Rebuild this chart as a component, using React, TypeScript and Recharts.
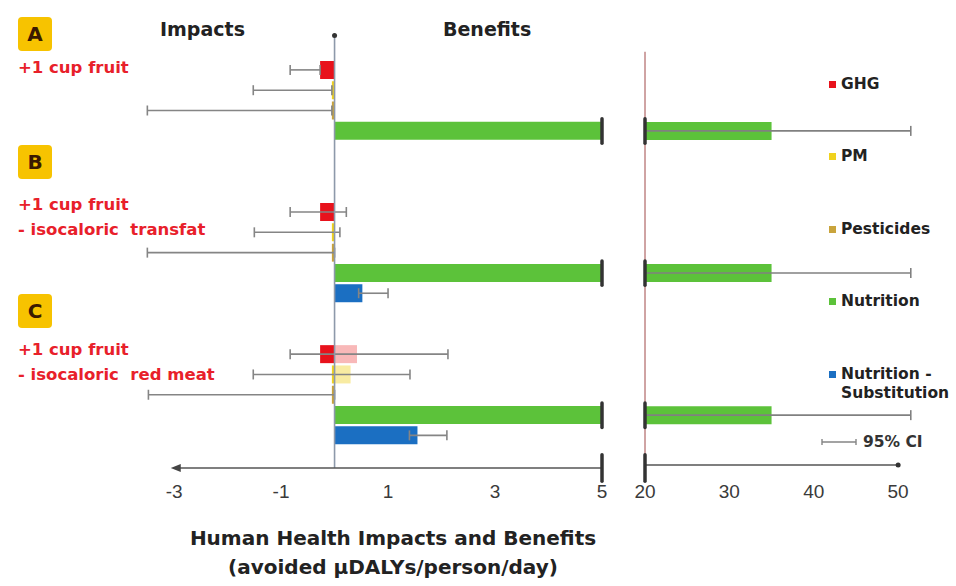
import React from 'react';
import { BarChart, Bar, Cell, XAxis, YAxis, ErrorBar, ReferenceLine, ReferenceDot } from 'recharts';

// one entry per drawn row (group A has no substitution row)
const rowGroup = ['A', 'A', 'A', 'A', 'B', 'B', 'B', 'B', 'B', 'C', 'C', 'C', 'C', 'C'];
const rowSeries = [
  'GHG', 'PM', 'Pesticides', 'Nutrition',
  'GHG', 'PM', 'Pesticides', 'Nutrition', 'Nutrition - Substitution',
  'GHG', 'PM', 'Pesticides', 'Nutrition', 'Nutrition - Substitution',
];
const rowPos = [0, 1, 2, 3, 7, 8, 9, 10, 11, 14, 15, 16, 17, 18];
const rowValue = [-0.27, -0.05, -0.05, 35, -0.27, -0.05, -0.05, 35, 0.52, -0.27, -0.05, -0.05, 35, 1.55];
const rowExtra = [0, 0, 0, 0, 0, 0, 0, 0, 0, 0.42, 0.3, 0, 0, 0];
const rowLow = [-0.83, -1.52, -3.5, 20, -0.83, -1.5, -3.5, 20, 0.45, -0.83, -1.52, -3.48, 20, 1.4];
const rowHigh = [-0.27, -0.05, -0.05, 51.5, 0.22, 0.1, 0, 51.5, 1.0, 2.12, 1.41, 0, 51.5, 2.1];

const seriesNames = ['GHG', 'PM', 'Pesticides', 'Nutrition', 'Nutrition - Substitution'];
const seriesColors = ['#e8121c', '#f0d21e', '#c9a43c', '#5cc23a', '#1b6fc2'];
const extraColors = ['#f59a9a', '#f5e27a', '#c9a43c', '#5cc23a', '#1b6fc2'];

const groupLetters = ['A', 'B', 'C'];
const groupLabels = [
  ['+1 cup fruit'],
  ['+1 cup fruit', '- isocaloric  transfat'],
  ['+1 cup fruit', '- isocaloric  red meat'],
];

const leftTicks = [-3, -1, 1, 3, 5];
const rightTicks = [20, 30, 40, 50];
const leftMax = 5;
const rightMin = 20;

const FONT = 'Arial, "Liberation Sans", sans-serif';
const WIDE = '"DejaVu Sans", Verdana, sans-serif';

const colorOf = (s: string) => seriesColors[seriesNames.indexOf(s)];
const extraOf = (s: string) => extraColors[seriesNames.indexOf(s)];

const leftData = rowSeries.map((s, i) => {
  const v = rowValue[i];
  const over = v > leftMax;
  return {
    pos: rowPos[i],
    series: s,
    group: rowGroup[i],
    value: over ? leftMax : v,
    extra: rowExtra[i],
    err: over ? undefined : [v - rowLow[i], rowHigh[i] - v],
  };
});

const rightData = rowSeries
  .map((s, i) => ({
    pos: rowPos[i],
    series: s,
    value: rowValue[i],
    err: [rowValue[i] - Math.max(rowLow[i], rightMin), rowHigh[i] - rowValue[i]],
  }))
  .filter((d) => d.value > rightMin);

const breakRows = rightData.map((d) => d.pos);

const Y_DOMAIN: [number, number] = [-1.8, 19.6];
const tickStyle = { fontSize: 19, fill: '#3a3a3a', fontFamily: FONT };

const Arrow = (props: any) => {
  const { cx, cy } = props;
  return <path d={`M${cx - 6},${cy} L${cx + 4},${cy - 4} L${cx + 4},${cy + 4} Z`} fill="#444" />;
};

function LeftChart() {
  return (
    <BarChart
      width={620}
      height={586}
      layout="vertical"
      data={leftData}
      stackOffset="sign"
      margin={{ top: 33.5, right: 18, bottom: 88, left: 142 }}
    >
      <XAxis
        type="number"
        dataKey="value"
        domain={[-3.6, 5]}
        allowDataOverflow
        ticks={leftTicks}
        interval={0}
        axisLine={false}
        tickLine={false}
        tickMargin={11}
        height={30}
        tick={tickStyle}
      />
      <YAxis type="number" dataKey="pos" domain={Y_DOMAIN} hide allowDataOverflow ticks={rowPos} />
      <Bar dataKey="value" stackId="s" barSize={18} isAnimationActive={false}>
        {leftData.map((d, i) => (
          <Cell key={i} fill={colorOf(d.series)} />
        ))}
        <ErrorBar dataKey="err" direction="x" width={5} stroke="#858585" strokeWidth={1.6} />
      </Bar>
      <Bar dataKey="extra" stackId="s" barSize={18} isAnimationActive={false}>
        {leftData.map((d, i) => (
          <Cell key={i} fill={extraOf(d.series)} fillOpacity={0.7} />
        ))}
      </Bar>
      <ReferenceLine
        segment={[{ x: 0, y: -1.7 }, { x: 0, y: 19.6 }]}
        stroke="#8d99aa"
        strokeWidth={1.6}
        ifOverflow="visible"
      />
      <ReferenceDot x={0} y={-1.7} r={2.5} fill="#333" stroke="none" ifOverflow="visible" />
      <ReferenceLine
        segment={[{ x: -2.95, y: 19.6 }, { x: 5, y: 19.6 }]}
        stroke="#555"
        strokeWidth={1.6}
        ifOverflow="visible"
      />
      <ReferenceDot x={-2.95} y={19.6} r={4} shape={Arrow} ifOverflow="visible" />
      <ReferenceLine
        segment={[{ x: 5, y: 18.95 }, { x: 5, y: 20.25 }]}
        stroke="#333"
        strokeWidth={3.5}
        strokeLinecap="round"
        ifOverflow="visible"
      />
      {breakRows.map((p) => (
        <ReferenceLine
          key={p}
          segment={[{ x: 5, y: p - 0.6 }, { x: 5, y: p + 0.6 }]}
          stroke="#333"
          strokeWidth={3.5}
          strokeLinecap="round"
          ifOverflow="visible"
        />
      ))}
    </BarChart>
  );
}

function RightChart() {
  return (
    <BarChart
      width={336}
      height={586}
      layout="vertical"
      data={rightData}
      margin={{ top: 33.5, right: 41, bottom: 88, left: 25 }}
    >
      <XAxis
        type="number"
        dataKey="value"
        domain={[20, 52]}
        allowDataOverflow
        ticks={rightTicks}
        interval={0}
        axisLine={false}
        tickLine={false}
        tickMargin={11}
        height={30}
        tick={tickStyle}
      />
      <YAxis type="number" dataKey="pos" domain={Y_DOMAIN} hide allowDataOverflow ticks={rowPos} />
      <ReferenceLine
        segment={[{ x: 20, y: -0.9 }, { x: 20, y: 19.6 }]}
        stroke="#a04848"
        strokeWidth={1}
        ifOverflow="visible"
      />
      <Bar dataKey="value" barSize={18} isAnimationActive={false}>
        {rightData.map((d, i) => (
          <Cell key={i} fill={colorOf(d.series)} />
        ))}
        <ErrorBar dataKey="err" direction="x" width={5} stroke="#808080" strokeWidth={1.6} />
      </Bar>
      <ReferenceLine
        segment={[{ x: 20, y: 19.45 }, { x: 50, y: 19.45 }]}
        stroke="#555"
        strokeWidth={1.6}
        ifOverflow="visible"
      />
      <ReferenceDot x={50} y={19.45} r={2.5} fill="#333" stroke="none" ifOverflow="visible" />
      <ReferenceLine
        segment={[{ x: 20, y: 18.95 }, { x: 20, y: 20.25 }]}
        stroke="#333"
        strokeWidth={3.5}
        strokeLinecap="round"
        ifOverflow="visible"
      />
      {breakRows.map((p) => (
        <ReferenceLine
          key={p}
          segment={[{ x: 20, y: p - 0.6 }, { x: 20, y: p + 0.6 }]}
          stroke="#333"
          strokeWidth={3.5}
          strokeLinecap="round"
          ifOverflow="visible"
        />
      ))}
    </BarChart>
  );
}

const abs = (left: number, top: number, extra: React.CSSProperties = {}): React.CSSProperties => ({
  position: 'absolute',
  left,
  top,
  whiteSpace: 'nowrap',
  ...extra,
});

const letterTops = [17, 145, 294];
const labelTops = [55, 192, 337];

const legendTops = [75, 147, 220, 292, 365];

export default function App() {
  return (
    <div style={{ position: 'absolute', left: 0, top: 0, width: 956, height: 586, background: '#fff', fontFamily: FONT, overflow: 'hidden' }}>
      <div style={abs(0, 0)}>
        <LeftChart />
      </div>
      <div style={abs(620, 0)}>
        <RightChart />
      </div>

      {groupLetters.map((g, i) => (
        <div
          key={g}
          style={abs(18, letterTops[i], {
            width: 34,
            height: 34,
            background: '#f7c300',
            borderRadius: 4,
            color: '#3b1a00',
            fontWeight: 700,
            fontSize: 20,
            fontFamily: WIDE,
            lineHeight: '34px',
            textAlign: 'center',
          })}
        >
          {g}
        </div>
      ))}
      {groupLabels.map((lines, i) => (
        <div key={i} style={abs(18, labelTops[i], { color: '#e8202a', fontWeight: 700, fontSize: 16.5, fontFamily: WIDE, lineHeight: '25px', whiteSpace: 'pre' })}>
          {lines.join('\n')}
        </div>
      ))}

      <div style={abs(160, 18, { fontWeight: 700, fontSize: 19, fontFamily: WIDE, color: '#222' })}>Impacts</div>
      <div style={abs(443, 18, { fontWeight: 700, fontSize: 19, fontFamily: WIDE, color: '#222' })}>Benefits</div>

      <div style={abs(0, 524, { width: 786, textAlign: 'center', fontWeight: 700, fontSize: 20, fontFamily: WIDE, color: '#222', lineHeight: '29px', whiteSpace: 'pre' })}>
        {'Human Health Impacts and Benefits\n(avoided µDALYs/person/day)'}
      </div>

      {seriesNames.map((s, i) => (
        <div key={s} style={abs(829, legendTops[i], { display: 'flex', alignItems: 'flex-start', fontWeight: 700, fontSize: 15.5, fontFamily: WIDE, color: '#222', lineHeight: '19px' })}>
          <span style={{ width: 7, height: 7, background: seriesColors[i], marginTop: 6, marginRight: 5, flex: 'none' }} />
          <span style={{ whiteSpace: 'pre' }}>{s === 'Nutrition - Substitution' ? 'Nutrition -\nSubstitution' : s}</span>
        </div>
      ))}
      <div style={abs(821, 433, { display: 'flex', alignItems: 'center', fontWeight: 700, fontSize: 15.5, fontFamily: WIDE, color: '#333' })}>
        <svg width={36} height={12} style={{ marginRight: 6 }}>
          <line x1={1} y1={6} x2={35} y2={6} stroke="#858585" strokeWidth={1.6} />
          <line x1={1} y1={3} x2={1} y2={9} stroke="#858585" strokeWidth={1.4} />
          <line x1={35} y1={3} x2={35} y2={9} stroke="#858585" strokeWidth={1.4} />
        </svg>
        95% CI
      </div>
    </div>
  );
}
